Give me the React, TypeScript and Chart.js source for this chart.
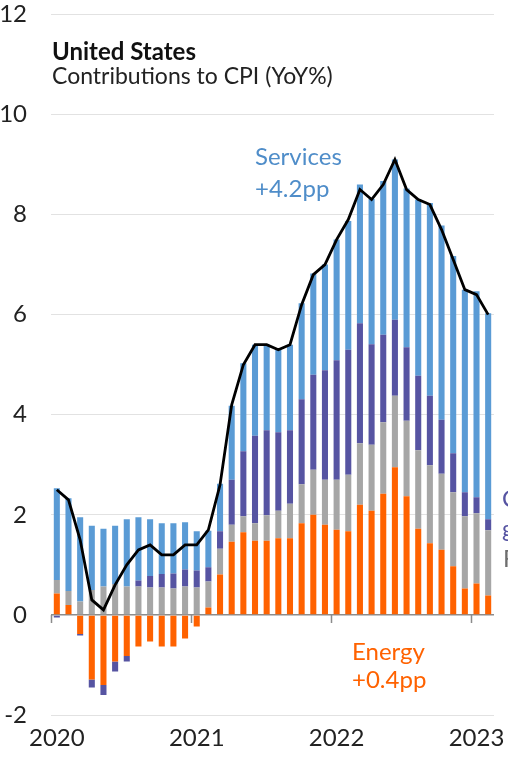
import React, { useEffect, useRef } from "react";
import { Chart, registerables } from "chart.js";

Chart.register(...registerables);

const months = [
  "2020-01", "2020-02", "2020-03", "2020-04", "2020-05", "2020-06", "2020-07", "2020-08", "2020-09", "2020-10", "2020-11", "2020-12",
  "2021-01", "2021-02", "2021-03", "2021-04", "2021-05", "2021-06", "2021-07", "2021-08", "2021-09", "2021-10", "2021-11", "2021-12",
  "2022-01", "2022-02", "2022-03", "2022-04", "2022-05", "2022-06", "2022-07", "2022-08", "2022-09", "2022-10", "2022-11", "2022-12",
  "2023-01", "2023-02",
];

const energy = [
  0.43, 0.2, -0.38, -1.29, -1.4, -0.93, -0.82, -0.63, -0.53, -0.63, -0.63, -0.47,
  -0.23, 0.15, 0.81, 1.46, 1.65, 1.48, 1.48, 1.53, 1.53, 1.83, 2.0, 1.8,
  1.7, 1.67, 2.2, 2.08, 2.42, 2.95, 2.37, 1.72, 1.43, 1.3, 0.97, 0.53,
  0.63, 0.39,
];

const food = [
  0.27, 0.28, 0.27, 0.5, 0.57, 0.62, 0.57, 0.57, 0.55, 0.55, 0.53, 0.57,
  0.55, 0.52, 0.51, 0.34, 0.32, 0.35, 0.51, 0.55, 0.69, 0.78, 0.9, 0.9,
  1.0, 1.13, 1.23, 1.32, 1.43, 1.43, 1.51, 1.57, 1.56, 1.52, 1.48, 1.44,
  1.4, 1.3,
];

const coreGoods = [
  -0.05, 0.0, -0.03, -0.16, -0.2, -0.2, -0.11, 0.12, 0.23, 0.27, 0.3, 0.34,
  0.34, 0.28, 0.35, 0.9, 1.3, 1.75, 1.7, 1.57, 1.47, 1.7, 1.9, 2.19,
  2.39, 2.5, 2.4, 2.01, 1.75, 1.52, 1.47, 1.49, 1.39, 1.08, 0.78, 0.48,
  0.32, 0.22,
];

const services = [
  1.83, 1.85, 1.68, 1.28, 1.15, 1.16, 1.34, 1.26, 1.13, 1.01, 1.0, 0.94,
  0.78, 0.73, 0.95, 1.48, 1.76, 1.82, 1.71, 1.65, 1.71, 1.92, 2.02, 2.11,
  2.41, 2.57, 2.77, 2.9, 3.07, 3.2, 3.17, 3.52, 3.85, 3.88, 3.94, 4.05,
  4.12, 4.12,
];

const headline = [
  2.5, 2.3, 1.5, 0.3, 0.1, 0.6, 1.0, 1.3, 1.4, 1.2, 1.2, 1.4,
  1.4, 1.7, 2.6, 4.2, 5.0, 5.4, 5.4, 5.3, 5.4, 6.2, 6.8, 7.0,
  7.5, 7.9, 8.5, 8.3, 8.6, 9.1, 8.5, 8.3, 8.2, 7.7, 7.1, 6.5,
  6.4, 6.0,
];

const yearLabels = ["2020", "2021", "2022", "2023"];

const COLORS = {
  energy: "#FF6200",
  food: "#A6A6A6",
  core: "#5654A2",
  services: "#5A9BD5",
};

const FONT = "Lato, 'Open Sans', sans-serif";

const isYearStart = (m: string) => m.endsWith("-01") && yearLabels.includes(m.slice(0, 4));

const yearTickPlugin = {
  id: "yearTicks",
  afterDatasetsDraw(chart: any) {
    const x = chart.scales.x;
    const y = chart.scales.y;
    const ctx = chart.ctx;
    const half = (x.getPixelForValue(1) - x.getPixelForValue(0)) / 2;
    const y0 = y.getPixelForValue(0);
    ctx.save();
    ctx.strokeStyle = "#8c8c8c";
    ctx.lineWidth = 1.5;
    ctx.beginPath();
    months.forEach((m, i) => {
      if (isYearStart(m)) {
        const px = Math.round(x.getPixelForValue(i) - half) + 0.5;
        ctx.moveTo(px, y0);
        ctx.lineTo(px, y0 + 8);
      }
    });
    ctx.stroke();
    ctx.restore();
  },
};

function Label(props: { left: number; top: number; size: number; color: string; bold?: boolean; text: string }) {
  return (
    <div
      style={{
        position: "absolute",
        left: props.left,
        top: props.top,
        fontFamily: FONT,
        fontSize: props.size,
        lineHeight: "1",
        fontWeight: props.bold ? 700 : 400,
        color: props.color,
        whiteSpace: "nowrap",
      }}
    >
      {props.text}
    </div>
  );
}

export default function App() {
  const canvasRef = useRef<HTMLCanvasElement | null>(null);

  useEffect(() => {
    document.body.style.margin = "0";
    if (!canvasRef.current) return;
    const barCommon = {
      type: "bar" as const,
      stack: "components",
      barPercentage: 0.52,
      categoryPercentage: 1.0,
      order: 1,
      borderWidth: 0,
    };
    const chart = new Chart(canvasRef.current, {
      type: "bar",
      data: {
        labels: months,
        datasets: [
          { ...barCommon, label: "Energy", data: energy, backgroundColor: COLORS.energy },
          { ...barCommon, label: "Food", data: food, backgroundColor: COLORS.food },
          { ...barCommon, label: "Core goods", data: coreGoods, backgroundColor: COLORS.core },
          { ...barCommon, label: "Services", data: services, backgroundColor: COLORS.services },
          {
            type: "line" as const,
            label: "CPI",
            data: headline,
            stack: "headline",
            borderColor: "#000000",
            borderWidth: 2.8,
            pointRadius: 0,
            tension: 0,
            order: 0,
            fill: false,
          } as any,
        ],
      },
      options: {
        animation: false,
        responsive: true,
        maintainAspectRatio: false,
        layout: { padding: { top: 14, right: 14, bottom: 7, left: 0 } },
        plugins: {
          legend: { display: false },
          tooltip: { enabled: false },
          title: { display: false },
        },
        scales: {
          x: {
            stacked: true,
            offset: true,
            grid: { display: false, drawTicks: false },
            border: { display: false },
            afterFit: (scale: any) => {
              scale.height = 38;
            },
            ticks: {
              autoSkip: false,
              maxRotation: 0,
              minRotation: 0,
              padding: 9,
              color: "#222222",
              font: { family: FONT, size: 24 },
              callback: (_v: any, i: number) => (isYearStart(months[i]) ? months[i].slice(0, 4) : ""),
            },
          },
          y: {
            stacked: true,
            min: -2,
            max: 12,
            border: { display: false },
            afterFit: (scale: any) => {
              scale.width = 51;
            },
            grid: {
              drawTicks: true,
              tickLength: 24,
              tickColor: "rgba(0,0,0,0)",
              color: (c: any) => (c.tick && c.tick.value === 0 ? "#8c8c8c" : "#e2e2e2"),
              lineWidth: (c: any) => (c.tick && c.tick.value === 0 ? 1.5 : 1),
            },
            ticks: {
              stepSize: 2,
              padding: 0,
              color: "#222222",
              font: { family: FONT, size: 24 },
            },
          },
        },
      },
      plugins: [yearTickPlugin],
    } as any);
    return () => chart.destroy();
  }, []);

  return (
    <div style={{ position: "relative", width: 508, height: 760, overflow: "hidden" }}>
      <canvas ref={canvasRef} />
      <Label left={52} top={39} size={24} color="#111111" bold text="United States" />
      <Label left={52} top={64} size={23} color="#222222" text="Contributions to CPI (YoY%)" />
      <Label left={255} top={144} size={24} color="#4F8DC9" text="Services" />
      <Label left={255} top={176} size={24} color="#4F8DC9" text="+4.2pp" />
      <Label left={352} top={639} size={24} color="#FF6200" text="Energy" />
      <Label left={352} top={667} size={24} color="#FF6200" text="+0.4pp" />
      <Label left={502} top={486} size={24} color="#5654A2" text="Core" />
      <Label left={502} top={516} size={24} color="#5654A2" text="goods" />
      <Label left={503} top={546} size={24} color="#6E6E6E" text="Food" />
    </div>
  );
}
